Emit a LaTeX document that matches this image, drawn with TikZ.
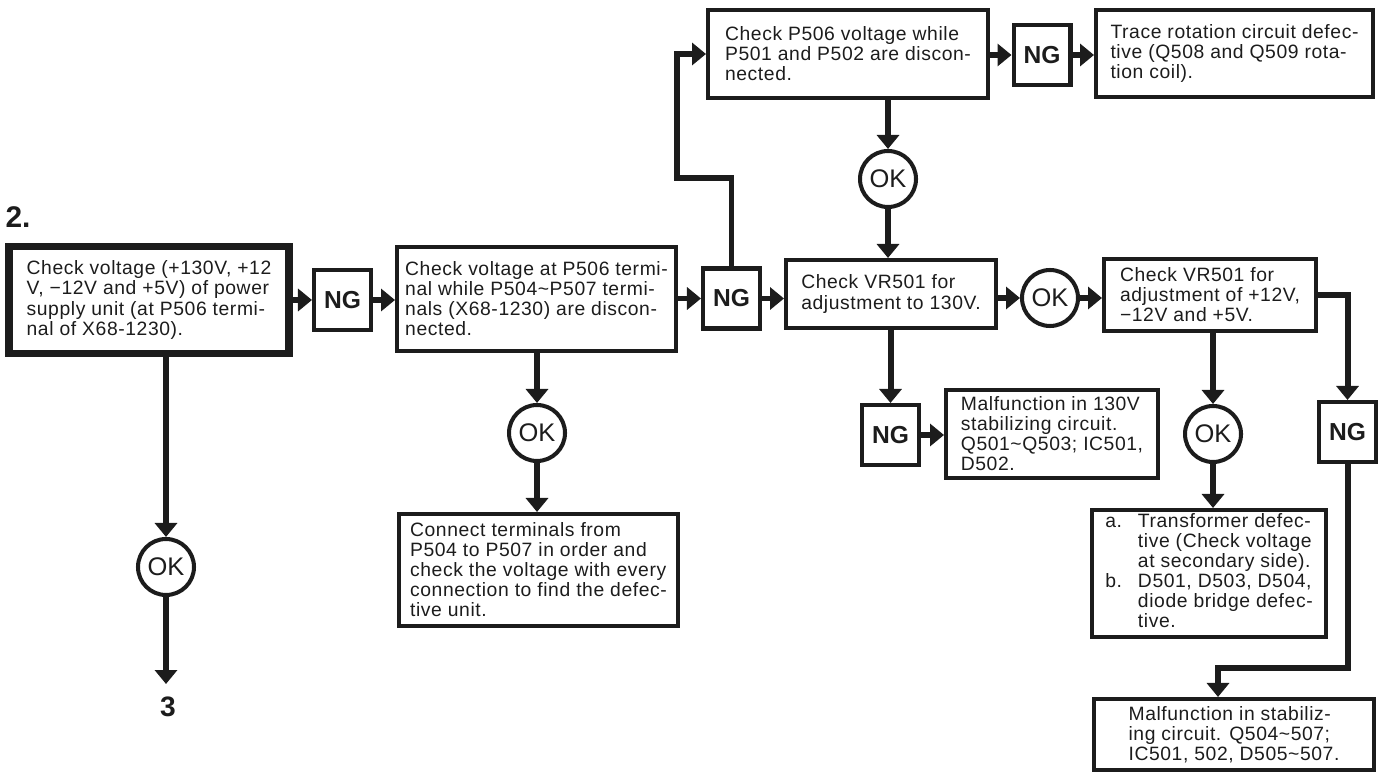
\documentclass[tikz,border=0pt]{standalone}
\usepackage{fontspec}
\setmainfont{Liberation Sans}[LetterSpace=3]
\newfontfamily\tagfont{Liberation Sans}
\usetikzlibrary{arrows.meta}
\definecolor{ink}{RGB}{28,28,28}
\tikzset{
  >={Triangle[length=2.8mm,width=4.4mm]},
  box/.style={draw=ink,line width=2.3pt,align=left,inner sep=0pt,
    font=\fontsize{11}{11.4}\selectfont,text=ink},
  main box/.style={box,line width=4.3pt},
  ngbox/.style={draw=ink,line width=2.3pt,inner sep=0pt,minimum width=1.14cm,
    minimum height=1.2cm,font=\tagfont\fontsize{14}{14}\selectfont\bfseries,text=ink},
  okmark/.style={circle,draw=ink,line width=2.3pt,inner sep=0pt,minimum size=1.12cm,
    font=\tagfont\fontsize{14.5}{14.5}\selectfont,text=ink},
  flow/.style={->,line width=3.4pt,draw=ink},
  stepno/.style={font=\tagfont\fontsize{17}{17}\selectfont\bfseries,text=ink},
}
\newcommand{\tld}{\textasciitilde}

\begin{document}
\begin{tikzpicture}[x=0.02cm,y=-0.02cm]
  \useasboundingbox (0,0) rectangle (1378,776);

  % check boxes
  \node[main box,minimum width=5.6cm,minimum height=2.14cm] (volt) at (149,300)
    {Check voltage (+130V, +12\\V, −12V and +5V) of power\\supply unit (at P506 termi-\\nal of X68-1230).};
  \node[box,minimum width=5.58cm,minimum height=2.08cm] (discon) at (536.5,299)
    {Check voltage at P506 termi-\\nal while P504\tld P507 termi-\\nals (X68-1230) are discon-\\nected.};
  \node[box,minimum width=5.6cm,minimum height=1.76cm] (rotchk) at (848,54)
    {Check P506 voltage while\\P501 and P502 are discon-\\nected.};
  \node[box,minimum width=5.54cm,minimum height=1.74cm] (rotdef) at (1234.5,53.5)
    {Trace rotation circuit defec-\\tive (Q508 and Q509 rota-\\tion coil).};
  \node[box,minimum width=4.2cm,minimum height=1.36cm] (vrhi) at (891,294)
    {Check VR501 for\\adjustment to 130V.};
  \node[box,minimum width=4.24cm,minimum height=1.44cm] (vrlo) at (1210,295)
    {Check VR501 for\\adjustment of +12V,\\−12V and +5V.};
  \node[box,minimum width=4.24cm,minimum height=1.76cm] (stabhi) at (1052,434)
    {Malfunction in 130V\\stabilizing circuit.\\Q501\tld Q503; IC501,\\D502.};
  \node[box,minimum width=4.68cm,minimum height=2.54cm] (trafo) at (1209,573.5)
    {\begin{tabular}{@{}l@{\hspace{3.2mm}}l@{}}
      a. & Transformer defec-\\ & tive (Check voltage\\ & at secondary side).\\
      b. & D501, D503, D504,\\ & diode bridge defec-\\ & tive.
    \end{tabular}};
  \node[box,minimum width=5.6cm,minimum height=1.42cm] (stablo) at (1234,734.5)
    {Malfunction in stabiliz-\\ing circuit. Q504\tld 507;\\IC501, 502, D505\tld 507.};
  \node[box,minimum width=5.58cm,minimum height=2.24cm] (connect) at (538.5,570)
    {Connect terminals from\\P504 to P507 in order and\\check the voltage with every\\connection to find the defec-\\tive unit.};

  % NG / OK marks
  \foreach \n/\x/\y in {ng1/342.5/300, ng2/731.5/298.5, ngtop/1042/55,
                        ngvr/890.5/435, nglo/1347.5/432}
    \node[ngbox] (\n) at (\x,\y) {NG};
  \foreach \n/\x/\y in {okvolt/166/567, okdis/537/433, okrot/888/179,
                        okvr/1050/298, oklo/1213/434}
    \node[okmark] (\n) at (\x,\y) {OK};

  \node[stepno] (two) at (18,217) {2.};
  \node[stepno,font=\tagfont\fontsize{16}{16}\selectfont\bfseries] (three) at (168,707) {3};
  \coordinate (upbend) at (677,178);
  \coordinate (lobend) at (1218,668);
  \coordinate (toend) at (166,684);

  % connectors
  \draw[flow] (volt.east |- ng1) -- (ng1.west);
  \draw[flow] (ng1.east) -- (ng1 -| discon.west);
  \draw[flow] (discon.east |- ng2) -- (ng2.west);
  \draw[flow] (ng2.east) -- (ng2 -| vrhi.west);
  \draw[flow] (ng2.north) |- (upbend) |- (rotchk.west);
  \draw[flow] (rotchk.east |- ngtop) -- (ngtop.west);
  \draw[flow] (ngtop.east) -- (ngtop -| rotdef.west);
  \draw[flow] (okrot |- rotchk.south) -- (okrot.north);
  \draw[flow] (okrot.south) -- (okrot |- vrhi.north);
  \draw[flow] (vrhi.east |- okvr) -- (okvr.west);
  \draw[flow] (okvr.east) -- (okvr -| vrlo.west);
  \draw[flow] (ngvr |- vrhi.south) -- (ngvr.north);
  \draw[flow] (ngvr.east) -- (ngvr -| stabhi.west);
  \draw[flow] (oklo |- vrlo.south) -- (oklo.north);
  \draw[flow] (oklo.south) -- (oklo |- trafo.north);
  \draw[flow] (vrlo.east) -| (nglo.north);
  \draw[flow] (nglo.south) |- (lobend) -- (lobend |- stablo.north);
  \draw[flow] (okdis |- discon.south) -- (okdis.north);
  \draw[flow] (okdis.south) -- (okdis |- connect.north);
  \draw[flow] (okvolt |- volt.south) -- (okvolt.north);
  \draw[flow] (okvolt.south) -- (toend);
\end{tikzpicture}
\end{document}
